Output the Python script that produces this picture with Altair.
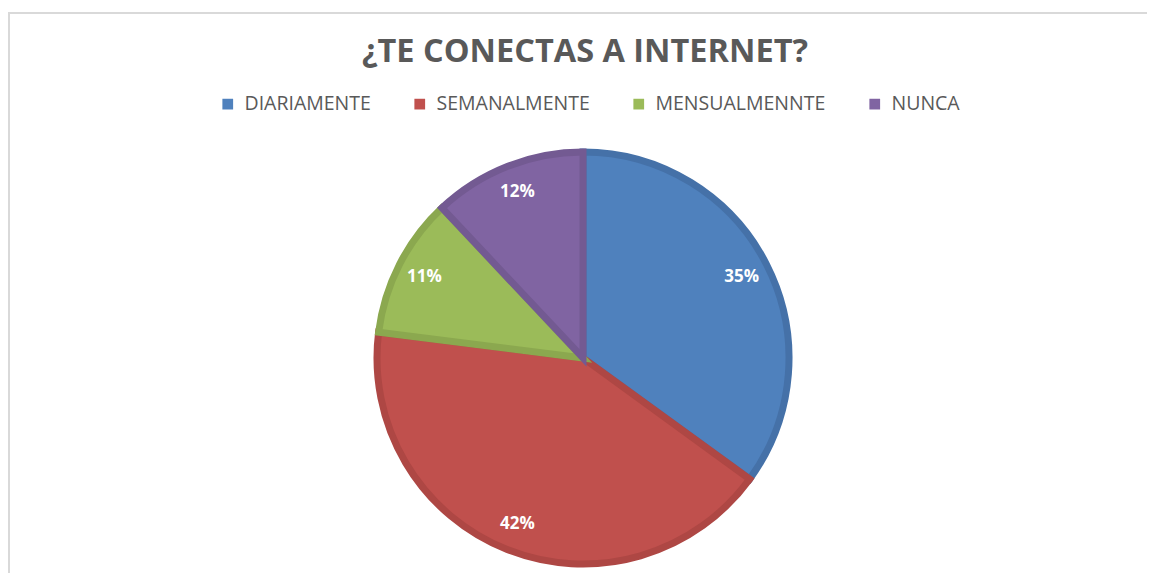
import altair as alt
import pandas as pd

categories = ["DIARIAMENTE", "SEMANALMENTE", "MENSUALMENNTE", "NUNCA"]
values = [35, 42, 11, 12]
labels = ["35%", "42%", "11%", "12%"]
fill_colors = ["#4F81BD", "#C0504D", "#9BBB59", "#8064A2"]
stroke_colors = ["#4571A8", "#AE4744", "#8BA84F", "#735A92"]
title_text = "¿TE CONECTAS A INTERNET?"

df = pd.DataFrame({
    "cat": categories,
    "value": values,
    "label": labels,
    "ord": list(range(len(categories))),
})

W, H = 1139, 565
CX, CY = 575, 350
R = 206

base = alt.Chart(df).encode(
    theta=alt.Theta("value:Q", stack=True),
    order=alt.Order("ord:Q"),
)

arcs = base.mark_arc(outerRadius=R, x=CX, y=CY, strokeWidth=7).encode(
    color=alt.Color(
        "cat:N",
        scale=alt.Scale(domain=categories, range=fill_colors),
        sort=categories,
        legend=alt.Legend(
            title=None,
            orient="none",
            legendX=210,
            legendY=86,
            direction="horizontal",
            symbolType="square",
            symbolSize=115,
            symbolStrokeWidth=0,
            labelFont="Open Sans",
            labelFontSize=19.5,
            labelColor="#595959",
            labelOffset=7,
            columnPadding=39,
            labelLimit=400,
        ),
    ),
    stroke=alt.Stroke(
        "cat:N",
        scale=alt.Scale(domain=categories, range=stroke_colors),
        legend=None,
    ),
)

texts = base.mark_text(
    radius=178, x=CX, y=CY, font="Open Sans", fontSize=17, fontWeight="bold",
    color="white", baseline="middle", align="center",
).encode(text="label:N")

single = alt.Data(values=[{"t": title_text}])

title = alt.Chart(single).mark_text(
    font="Open Sans", fontSize=32.5, fontWeight="bold", color="#595959",
    align="center", baseline="middle",
).encode(x=alt.value(CX + 2), y=alt.value(44), text="t:N")

border_left = alt.Chart(single).mark_rule(color="#D9D9D9", strokeWidth=2).encode(
    x=alt.value(1), y=alt.value(5), y2=alt.value(H)
)
border_top = alt.Chart(single).mark_rule(color="#D9D9D9", strokeWidth=2).encode(
    x=alt.value(0), x2=alt.value(W), y=alt.value(5)
)

chart = alt.layer(border_left, border_top, arcs, texts, title).properties(
    width=W, height=H, autosize=alt.AutoSizeParams(type="none"), padding=0,
    background="white",
).configure_view(strokeWidth=0)

chart.save("out.html", embed_options={"renderer": "svg", "actions": False})
